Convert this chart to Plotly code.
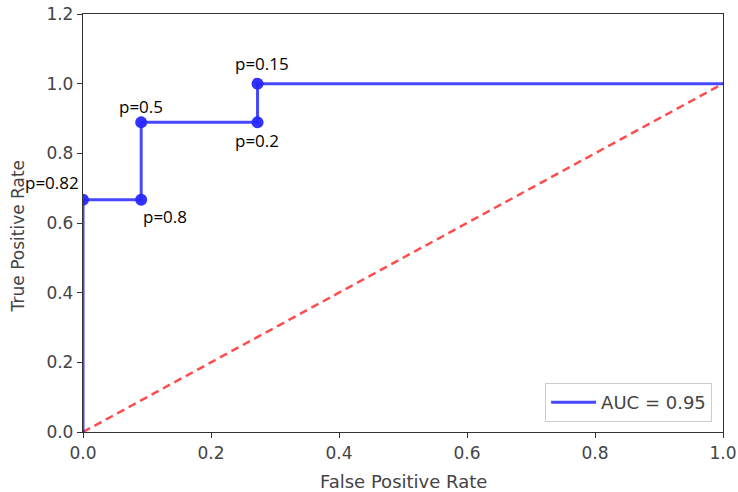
import plotly.graph_objects as go

# ROC data
fpr = [0.0, 0.0, 0.0909, 0.0909, 0.2727, 0.2727, 1.0]
tpr = [0.0, 0.6667, 0.6667, 0.8889, 0.8889, 1.0, 1.0]
pt_fpr = [0.0, 0.0909, 0.0909, 0.2727, 0.2727]
pt_tpr = [0.6667, 0.6667, 0.8889, 0.8889, 1.0]
pt_labels = ["p=0.82", "p=0.8", "p=0.5", "p=0.2", "p=0.15"]
diag_x = [0.0, 1.0]
diag_y = [0.0, 1.0]
auc_label = "AUC = 0.95"
ticks = [0.0, 0.2, 0.4, 0.6, 0.8, 1.0, 1.2]
x_title = "False Positive Rate"
y_title = "True Positive Rate"

# annotation placement (xanchor, xshift, yshift)
lab_pos = [("right", -2, 17), ("left", 0, -17), ("center", 0, 16), ("center", -1, -18), ("center", 4, 20)]

fig = go.Figure()
fig.add_trace(go.Scatter(x=diag_x, y=diag_y, mode="lines",
                         line=dict(color="rgba(255,0,0,0.7)", width=2.5, dash="8px,5px"),
                         showlegend=False, hoverinfo="skip"))
fig.add_trace(go.Scatter(x=fpr, y=tpr, mode="lines", name=auc_label,
                         line=dict(color="rgba(0,0,255,0.72)", width=3)))
fig.add_trace(go.Scatter(x=pt_fpr, y=pt_tpr, mode="markers",
                         marker=dict(color="rgba(40,40,255,0.95)", size=12),
                         showlegend=False))

for xv, yv, t, (xa, xs, ys) in zip(pt_fpr, pt_tpr, pt_labels, lab_pos):
    fig.add_annotation(x=xv, y=yv, text=t, showarrow=False, xanchor=xa, yanchor="middle",
                       xshift=xs, yshift=ys, font=dict(family="Open Sans", size=17, color="black"))

title_font = dict(family="DejaVu Sans", size=18, color="#444444")
fig.add_annotation(xref="paper", yref="paper", x=0.5, y=0, xanchor="center", yanchor="middle",
                   yshift=-49, text=x_title, showarrow=False, font=title_font)
fig.add_annotation(xref="paper", yref="paper", x=0, y=0.468, xanchor="center", yanchor="middle",
                   xshift=-65, text=y_title, textangle=-90, showarrow=False,
                   font=dict(family="DejaVu Sans", size=17, color="#444444"))

axis_common = dict(showgrid=False, zeroline=False, showline=True, linecolor="#333333", linewidth=1.3,
                   mirror=True, ticks="outside", ticklen=5, tickcolor="#333333", automargin=False,
                   tickfont=dict(family="DejaVu Sans", size=17, color="#444444"),
                   tickvals=ticks, tickformat=".1f")

fig.update_xaxes(range=[0, 1.0], **axis_common)
fig.update_yaxes(range=[0, 1.2], **axis_common)

fig.update_layout(width=738, height=492, margin=dict(l=83, r=15, t=14, b=60),
                  plot_bgcolor="white", paper_bgcolor="white",
                  legend=dict(x=0.983, y=0.024, xanchor="right", yanchor="bottom", itemwidth=45,
                              bordercolor="#cccccc", borderwidth=1, bgcolor="white",
                              font=dict(family="DejaVu Sans", size=18, color="#444444")))

fig.write_html("out.html")
